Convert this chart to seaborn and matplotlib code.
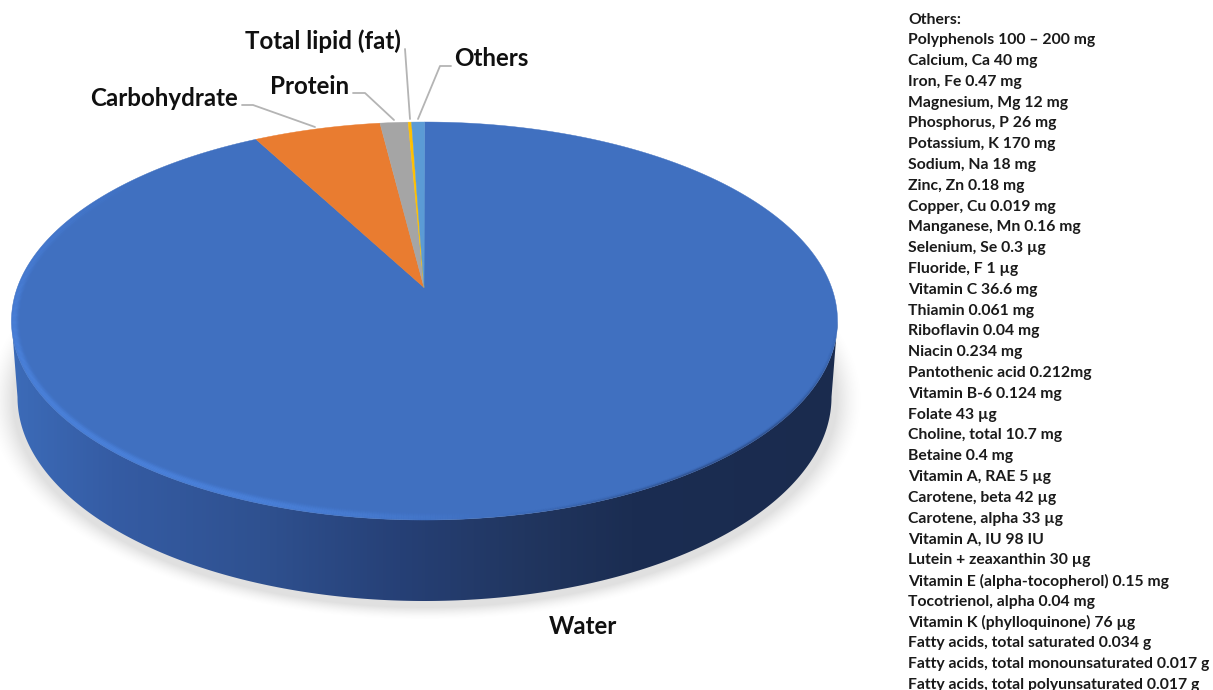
import numpy as np
import matplotlib
matplotlib.use("Agg")
import matplotlib.pyplot as plt
from matplotlib.collections import LineCollection
from matplotlib.colors import LinearSegmentedColormap
from matplotlib.patches import Polygon
import seaborn as sns

# Composition of the fruit, shares in percent, clockwise from twelve o'clock
components = ["Water", "Carbohydrate", "Protein", "Total lipid (fat)", "Others"]
shares = [93.31, 4.97, 1.09, 0.13, 0.50]
slice_colors = ["#4070C0", "#E97C30", "#A5A5A5", "#FFC000", "#5B9BD5"]

others_list = [
    "Others:",
    "Polyphenols 100 – 200 mg",
    "Calcium, Ca 40 mg",
    "Iron, Fe 0.47 mg",
    "Magnesium, Mg 12 mg",
    "Phosphorus, P 26 mg",
    "Potassium, K 170 mg",
    "Sodium, Na 18 mg",
    "Zinc, Zn 0.18 mg",
    "Copper, Cu 0.019 mg",
    "Manganese, Mn 0.16 mg",
    "Selenium, Se 0.3 µg",
    "Fluoride, F 1 µg",
    "Vitamin C 36.6 mg",
    "Thiamin 0.061 mg",
    "Riboflavin 0.04 mg",
    "Niacin 0.234 mg",
    "Pantothenic acid 0.212mg",
    "Vitamin B-6 0.124 mg",
    "Folate 43 µg",
    "Choline, total 10.7 mg",
    "Betaine 0.4 mg",
    "Vitamin A, RAE 5 µg",
    "Carotene, beta 42 µg",
    "Carotene, alpha 33 µg",
    "Vitamin A, IU 98 IU",
    "Lutein + zeaxanthin 30 µg",
    "Vitamin E (alpha-tocopherol) 0.15 mg",
    "Tocotrienol, alpha 0.04 mg",
    "Vitamin K (phylloquinone) 76 µg",
    "Fatty acids, total saturated 0.034 g",
    "Fatty acids, total monounsaturated 0.017 g",
    "Fatty acids, total polyunsaturated 0.017 g",
]

sns.set_theme(style="white")
plt.rcParams["font.family"] = ["Lato", "DejaVu Sans"]
palette = sns.color_palette(slice_colors)

W, H = 1213, 690
fig = plt.figure(figsize=(W / 100, H / 100), dpi=100)
ax = fig.add_axes([0, 0, 1, 1])
ax.set_axis_off()

# Disc geometry on the canvas
CX, CY, RX, RY = 424.5, 321.0, 413.0, 199.0     # top face
BX, BY, BRX, BRY = 424.5, 397.0, 407.0, 204.0   # lower rim
APEX = (424.0, 287.5)


def rim(theta_deg, cx=CX, cy=CY, rx=RX, ry=RY):
    t = np.radians(theta_deg)
    return cx + rx * np.sin(t), cy - ry * np.cos(t)


# Soft drop shadow under the disc
yy, xx = np.mgrid[0:H, 0:W]
dist = (np.hypot((xx - BX) / (BRX + 5), (yy - (BY + 3)) / (BRY + 3)) - 1) * 210
shadow = np.zeros((H, W, 4))
shadow[..., :3] = 0.6
shadow[..., 3] = 0.30 * np.clip(1 - dist / 13, 0, 1) ** 1.6
ax.imshow(shadow, extent=(0, W, H, 0), aspect="auto", zorder=1)

# Side wall, shaded from left to right
arc_t = np.linspace(90, 270, 400)
top_x, top_y = rim(arc_t)
low_x, low_y = rim(arc_t[::-1], BX, BY, BRX, BRY)
wall = Polygon(np.column_stack([np.r_[top_x, low_x], np.r_[top_y, low_y]]),
               closed=True, fc="none", ec="none", zorder=2)
ax.add_patch(wall)
wall_cmap = LinearSegmentedColormap.from_list(
    "wall",
    [(0.00, "#3C6BB8"), (0.12, "#355CA4"), (0.30, "#2F5190"), (0.47, "#264076"),
     (0.62, "#213660"), (0.75, "#1B2D52"), (1.00, "#1A2B4E")],
)
shade = ax.imshow(np.linspace(0, 1, 512)[None, :], cmap=wall_cmap, vmin=0, vmax=1,
                  extent=(12, 838, 610, 320), aspect="auto", zorder=2)
shade.set_clip_path(wall)

# Top face: one wedge per component, from the data
edges = np.r_[0, np.cumsum(shares)] / np.sum(shares) * 360
for start, stop, color in zip(edges[:-1], edges[1:], palette):
    t = np.linspace(start, stop, max(3, int((stop - start) * 4)))
    px, py = rim(t)
    ax.add_patch(Polygon(np.column_stack([np.r_[APEX[0], px], np.r_[APEX[1], py]]),
                         closed=True, fc=color, ec=color, lw=0.3, zorder=3))

# Bevel along the rim of the face: bright on the lit side, dark on the far side
rim_t = np.linspace(92, 330, 700)
for inset in np.arange(0.4, 11.0, 0.7):
    x, y = rim(rim_t, CX, CY, RX - inset, RY - inset)
    pts = np.column_stack([x, y])
    segs = np.stack([pts[:-1], pts[1:]], axis=1)
    mid = rim_t[:-1]
    lit = np.clip((mid - 170) / 35, 0, 1) * np.clip((320 - mid) / 60, 0, 1)
    dark = np.clip((mid - 92) / 30, 0, 1) * np.clip((170 - mid) / 30, 0, 1)
    rgba = np.zeros((len(mid), 4))
    rgba[:, :3] = np.where(dark[:, None] > 0, [0.10, 0.17, 0.32], [0.30, 0.52, 0.88])
    rgba[:, 3] = np.where(dark > 0,
                          0.30 * dark * np.exp(-(inset / 1.6) ** 2),
                          0.60 * lit * np.exp(-((inset - 2.5) / 3.6) ** 2))
    ax.add_collection(LineCollection(segs, colors=rgba, linewidths=1.0, zorder=4))

# Leader lines from the callouts to the small slices
leaders = {
    "Carbohydrate": ([242, 253, 315], [105, 105, 127]),
    "Protein": ([353, 365, 394], [93, 93, 120]),
    "Total lipid (fat)": ([405, 410], [49, 119]),
    "Others": ([451, 440, 418], [66, 66, 119]),
}
for xs, ys in leaders.values():
    sns.lineplot(x=xs, y=ys, sort=False, estimator=None, color="#B4B4B4",
                 lw=1.3, ax=ax, zorder=5, legend=False)

# Callout text
callouts = {
    "Water": (583, 627),
    "Carbohydrate": (164, 98),
    "Protein": (310, 87),
    "Total lipid (fat)": (323, 41),
    "Others": (491, 59),
}
for name in components:
    x, y = callouts[name]
    ax.text(x, y, name, ha="center", va="center", fontsize=17.4, fontweight="bold",
            color="#101010", zorder=6)

# Nutrient list on the right
for i, line in enumerate(others_list):
    ax.text(908.5, 19.5 + i * 20.8, line, ha="left", va="center", fontsize=11.35,
            fontweight="bold", color="#1A1A1A", zorder=6)

ax.set_xlim(0, W)
ax.set_ylim(H, 0)
fig.savefig("out.png", dpi=100, facecolor="white")
